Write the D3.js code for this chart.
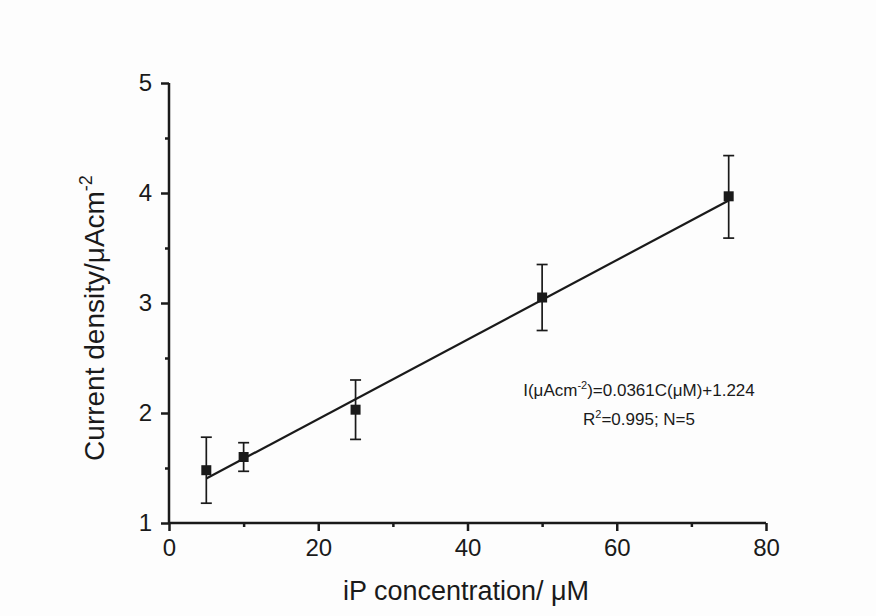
<!DOCTYPE html>
<html lang="en">
<head>
  <meta charset="UTF-8">
  <title>iP calibration</title>
  <style>
    body { margin: 0; padding: 0; background: #fdfdfd; }
    svg text { font-family: "Liberation Sans", Arial, sans-serif; fill: #1a1a1a; }
  </style>
  <script src="https://d3js.org/d3.v7.min.js"></script>
</head>
<body>
  <div id="chart"></div>
  <script>
    // data
    const conc = [5, 10, 25, 50, 75];
    const current = [1.48, 1.60, 2.03, 3.05, 3.97];
    const errUp = [1.78, 1.73, 2.30, 3.35, 4.34];
    const errDown = [1.18, 1.47, 1.76, 2.75, 3.59];
    const slope = 0.0361, intercept = 1.224;
    const xTicks = [0, 20, 40, 60, 80];
    const yTicks = [1, 2, 3, 4, 5];

    const width = 876, height = 616;
    const x = d3.scaleLinear().domain([0, 80]).range([169, 766]);
    const y = d3.scaleLinear().domain([1, 5]).range([523, 83]);

    const svg = d3.select("#chart").append("svg")
      .attr("width", width)
      .attr("height", height);

    // minor ticks first, major over them
    const xMinor = d3.axisBottom(x).tickValues(d3.range(10, 80, 20)).tickSize(4).tickFormat("");
    const yMinor = d3.axisLeft(y).tickValues(d3.range(1.5, 5, 1)).tickSize(4).tickFormat("");

    const gx = svg.append("g").attr("transform", `translate(0,${y(1)})`);
    gx.append("g").attr("class", "minor").call(xMinor);
    gx.append("g").call(d3.axisBottom(x).tickValues(xTicks).tickSize(8).tickPadding(8).tickFormat(d3.format("d")));

    const gy = svg.append("g").attr("transform", `translate(${x(0)},0)`);
    gy.append("g").attr("class", "minor").call(yMinor);
    gy.append("g").call(d3.axisLeft(y).tickValues(yTicks).tickSize(8).tickPadding(9).tickFormat(d3.format("d")));

    svg.selectAll(".minor .domain").remove();
    gx.selectAll(".domain").attr("d", `M${x(0)},0H${x(80)}`);
    gy.selectAll(".domain").attr("d", `M0,${y(1)}V${y(5)}`);
    svg.selectAll(".domain, .tick line")
      .style("stroke", "#1a1a1a")
      .style("stroke-width", "2.5px");
    svg.selectAll(".tick text")
      .attr("font-family", null)
      .style("font-size", "24px");

    // fit line
    svg.append("line")
      .attr("x1", x(conc[0])).attr("y1", y(slope * conc[0] + intercept))
      .attr("x2", x(conc[conc.length - 1])).attr("y2", y(slope * conc[conc.length - 1] + intercept))
      .style("stroke", "#1a1a1a").style("stroke-width", "2.2px");

    // error bars
    const eb = svg.append("g").style("stroke", "#1a1a1a").style("stroke-width", "1.7px");
    conc.forEach((c, i) => {
      eb.append("line").attr("x1", x(c)).attr("x2", x(c)).attr("y1", y(errUp[i])).attr("y2", y(errDown[i]));
      eb.append("line").attr("x1", x(c) - 5.5).attr("x2", x(c) + 5.5).attr("y1", y(errUp[i])).attr("y2", y(errUp[i]));
      eb.append("line").attr("x1", x(c) - 5.5).attr("x2", x(c) + 5.5).attr("y1", y(errDown[i])).attr("y2", y(errDown[i]));
    });

    // markers
    svg.selectAll("rect.pt")
      .data(conc)
      .enter()
      .append("rect")
      .attr("class", "pt")
      .attr("x", d => x(d) - 5)
      .attr("y", (d, i) => y(current[i]) - 5)
      .attr("width", 10)
      .attr("height", 10)
      .attr("fill", "#1a1a1a");

    // axis titles
    svg.append("text")
      .attr("x", 466).attr("y", 600)
      .attr("text-anchor", "middle")
      .style("font-size", "27px")
      .text("iP concentration/ μM");

    const yt = svg.append("text")
      .attr("transform", "translate(104,318) rotate(-90)")
      .attr("text-anchor", "middle")
      .style("font-size", "28px");
    yt.append("tspan").text("Current density/μAcm");
    yt.append("tspan").style("font-size", "18px").attr("dy", -12).text("-2");

    // equation
    const eq = svg.append("text")
      .attr("x", 639).attr("y", 396)
      .attr("text-anchor", "middle")
      .style("font-size", "17px");
    eq.append("tspan").text("I(μAcm");
    eq.append("tspan").style("font-size", "11px").attr("dy", -7).text("-2");
    eq.append("tspan").attr("dy", 7).text(")=0.0361C(μM)+1.224");

    const r2 = svg.append("text")
      .attr("x", 639).attr("y", 425)
      .attr("text-anchor", "middle")
      .style("font-size", "17px");
    r2.append("tspan").text("R");
    r2.append("tspan").style("font-size", "11px").attr("dy", -7).text("2");
    r2.append("tspan").attr("dy", 7).text("=0.995; N=5");
  </script>
</body>
</html>
